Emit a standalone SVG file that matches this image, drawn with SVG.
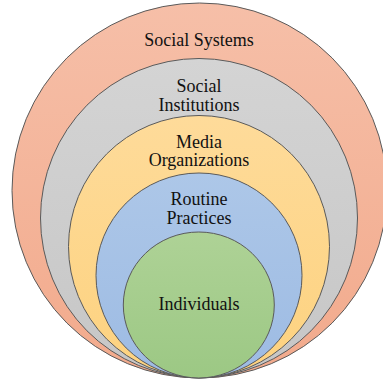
<svg xmlns="http://www.w3.org/2000/svg" width="383" height="385" viewBox="0 0 383 385">
<defs>
<linearGradient id="gS" x1="0" y1="0" x2="0" y2="1"><stop offset="0" stop-color="#F6BFA8"/><stop offset="1" stop-color="#F2AA8C"/></linearGradient>
<linearGradient id="gI" x1="0" y1="0" x2="0" y2="1"><stop offset="0" stop-color="#D4D4D4"/><stop offset="1" stop-color="#C6C6C6"/></linearGradient>
<linearGradient id="gM" x1="0" y1="0" x2="0" y2="1"><stop offset="0" stop-color="#FEDB9A"/><stop offset="1" stop-color="#FDD27F"/></linearGradient>
<linearGradient id="gR" x1="0" y1="0" x2="0" y2="1"><stop offset="0" stop-color="#ADC7E8"/><stop offset="1" stop-color="#9DBBE3"/></linearGradient>
<linearGradient id="gN" x1="0" y1="0" x2="0" y2="1"><stop offset="0" stop-color="#AED296"/><stop offset="1" stop-color="#9CC884"/></linearGradient>
</defs>
<style>
.c{stroke:#5a5a5a;stroke-width:1}
.t{font-family:"Liberation Serif","Times New Roman",serif;font-size:18px;fill:#111;text-anchor:middle}
</style>
<rect width="383" height="385" fill="#ffffff"/>
<g id="social-systems">
<ellipse class="c" cx="199.5" cy="190.5" rx="187.5" ry="187.5" fill="url(#gS)"/>
<text class="t" x="199" y="46">Social Systems</text>
</g>
<g id="social-institutions">
<ellipse class="c" cx="199" cy="218" rx="158.5" ry="159.5" fill="url(#gI)"/>
<text class="t" x="199" y="91.5">Social</text>
<text class="t" x="199" y="110.5">Institutions</text>
</g>
<g id="media-organizations">
<ellipse class="c" cx="199" cy="246.5" rx="130.5" ry="131" fill="url(#gM)"/>
<text class="t" x="199" y="147.5">Media</text>
<text class="t" x="199" y="166">Organizations</text>
</g>
<g id="routine-practices">
<ellipse class="c" cx="199" cy="275.5" rx="103" ry="102.5" fill="url(#gR)"/>
<text class="t" x="199" y="205">Routine</text>
<text class="t" x="199" y="223.5">Practices</text>
</g>
<g id="individuals">
<ellipse class="c" cx="198.8" cy="305" rx="75.5" ry="73" fill="url(#gN)"/>
<text class="t" x="199" y="309.5">Individuals</text>
</g>
<g id="connectors"/>
</svg>
